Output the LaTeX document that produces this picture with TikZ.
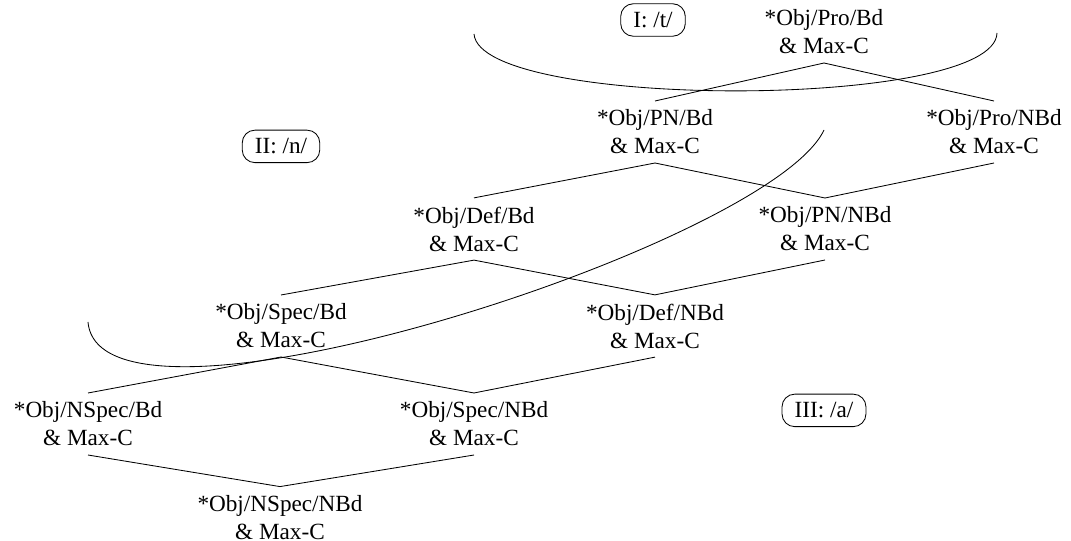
\documentclass[tikz,border=0pt]{standalone}
\usepackage{fontspec}
\setmainfont{Liberation Serif}
\begin{document}
\begin{tikzpicture}
      [line width=0.6pt,
      con node/.style={align=center,inner sep=6pt,font=\fontsize{16.5}{19.9}\selectfont},
      stratum node/.style={draw,rounded corners=9pt,inner xsep=9pt,inner ysep=6pt,font=\fontsize{16.5}{19.9}\selectfont}]
      \useasboundingbox (0,0) rectangle (26.775,13.5);
      \node[con node] (ProBd) at (20.6,12.7) {*Obj/Pro/Bd\\\& Max-C};
      \node[con node] (PNBd) at (16.375,10.2) {*Obj/PN/Bd\\\& Max-C};
      \node[con node] (ProNBd) at (24.85,10.2) {*Obj/Pro/NBd\\\& Max-C};
      \node[con node] (DefBd) at (11.85,7.775) {*Obj/Def/Bd\\\& Max-C};
      \node[con node] (PNNBd) at (20.625,7.775) {*Obj/PN/NBd\\\& Max-C};
      \node[con node] (SpecBd) at (7.025,5.35) {*Obj/Spec/Bd\\\& Max-C};
      \node[con node] (DefNBd) at (16.375,5.35) {*Obj/Def/NBd\\\& Max-C};
      \node[con node] (NSpecBd) at (2.2,2.9) {*Obj/NSpec/Bd\\\& Max-C};
      \node[con node] (SpecNBd) at (11.85,2.9) {*Obj/Spec/NBd\\\& Max-C};
      \node[con node] (NSpecNBd) at (7.0,0.56) {*Obj/NSpec/NBd\\\& Max-C};
      \node[stratum node] (t) at (16.325,13.0) {I: /t/};
      \node[stratum node] (n) at (7.025,9.84) {II: /n/};
      \node[stratum node] (a) at (20.6,3.24) {III: /a/};
      \draw (ProBd.south) -- (PNBd.north);
      \draw (ProBd.south) -- (ProNBd.north);
      \draw (PNBd.south) -- (DefBd.north);
      \draw (PNBd.south) -- (PNNBd.north);
      \draw (ProNBd.south) -- (PNNBd.north);
      \draw (DefBd.south) -- (SpecBd.north);
      \draw (DefBd.south) -- (DefNBd.north);
      \draw (PNNBd.south) -- (DefNBd.north);
      \draw (SpecBd.south) -- (NSpecBd.north);
      \draw (SpecBd.south) -- (SpecNBd.north);
      \draw (DefNBd.south) -- (SpecNBd.north);
      \draw (NSpecBd.south) -- (NSpecNBd.north);
      \draw (SpecNBd.south) -- (NSpecNBd.north);
      % stratum boundaries
      \draw (11.85,12.65) .. controls (12.0,10.75) and (24.875,10.75) .. (24.925,12.675);
      \draw (2.2,5.45) .. controls (2.5,2.0) and (19.25,7.375) .. (20.6,10.25);
\end{tikzpicture}
\end{document}
